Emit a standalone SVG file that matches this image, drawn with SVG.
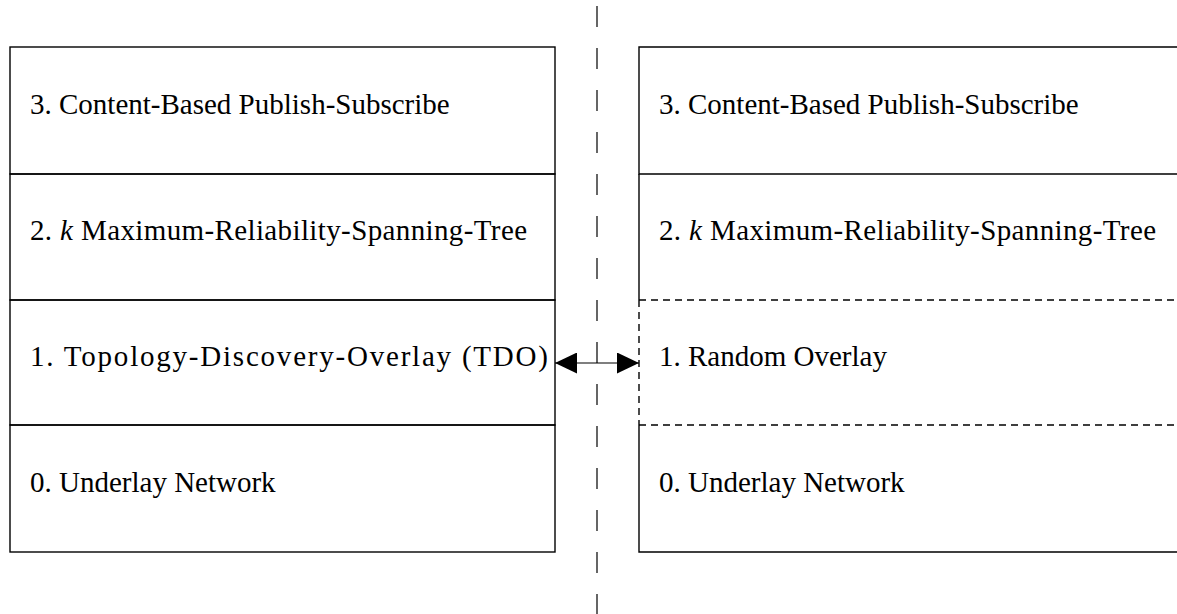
<svg xmlns="http://www.w3.org/2000/svg" width="1177" height="614" viewBox="0 0 1177 614">
<style>
.box{fill:none;stroke:#000;stroke-width:1.4}
.dash{fill:none;stroke:#000;stroke-width:1.4;stroke-dasharray:7 5}
.lbl{font-family:"Liberation Serif","Times New Roman",serif;font-size:29px;fill:#000}
.sep{stroke:#000;stroke-width:1.2;stroke-dasharray:21 21}
</style>
<defs>
<marker id="ah" viewBox="0 0 22 21" refX="22" refY="10.5" markerWidth="22" markerHeight="21" markerUnits="userSpaceOnUse" orient="auto-start-reverse">
<path d="M0,0 L22,10.5 L0,21 Z" fill="#000"/>
</marker>
</defs>
<rect width="1177" height="614" fill="#fff"/>
<line class="sep" x1="597" y1="6" x2="597" y2="614"/>
<g id="left-3"><rect class="box" x="10" y="47" width="545" height="127"/><text class="lbl" x="30" y="114">3. Content-Based Publish-Subscribe</text></g>
<g id="left-2"><rect class="box" x="10" y="174" width="545" height="126"/><text class="lbl" x="30" y="240" textLength="497" lengthAdjust="spacing">2. <tspan font-style="italic">k</tspan> Maximum-Reliability-Spanning-Tree</text></g>
<g id="left-1"><rect class="box" x="10" y="300" width="545" height="125"/><text class="lbl" x="30" y="366" textLength="518" lengthAdjust="spacing">1. Topology-Discovery-Overlay (TDO)</text></g>
<g id="left-0"><rect class="box" x="10" y="425" width="545" height="127"/><text class="lbl" x="30" y="492">0. Underlay Network</text></g>
<g id="right-3"><path class="box" d="M1190,47 H639 V174 H1190"/><text class="lbl" x="659" y="114">3. Content-Based Publish-Subscribe</text></g>
<g id="right-2"><path class="box" d="M639,174 V300"/><path class="dash" d="M639,300 H1190"/><text class="lbl" x="659" y="240" textLength="497" lengthAdjust="spacing">2. <tspan font-style="italic">k</tspan> Maximum-Reliability-Spanning-Tree</text></g>
<g id="right-1"><path class="dash" d="M639,300 V425"/><text class="lbl" x="659" y="366">1. Random Overlay</text></g>
<g id="right-0"><path class="dash" d="M639,425 H1190"/><path class="box" d="M639,425 V552 H1190"/><text class="lbl" x="659" y="492">0. Underlay Network</text></g>
<g id="connectors"><line x1="555" y1="363" x2="639" y2="363" stroke="#000" stroke-width="1.2" marker-start="url(#ah)" marker-end="url(#ah)"/></g>
</svg>
